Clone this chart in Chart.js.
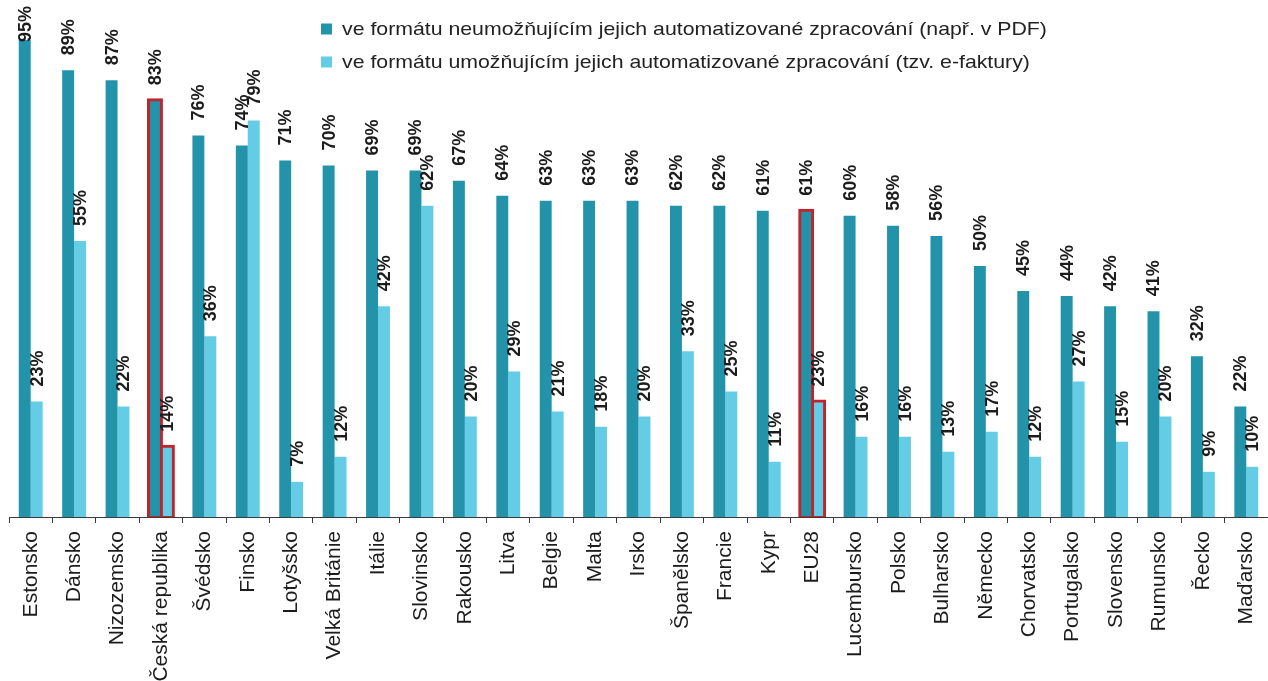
<!DOCTYPE html>
<html>
<head>
<meta charset="utf-8">
<script src="https://cdn.jsdelivr.net/npm/chart.js@4/dist/chart.umd.min.js"></script>
<style>
  html, body { margin: 0; padding: 0; background: #ffffff; }
  #wrap { position: relative; width: 1268px; height: 681px; }
</style>
</head>
<body>
<div id="wrap"><canvas id="c"></canvas></div>
<script>
const categories = ["Estonsko","Dánsko","Nizozemsko","Česká republika","Švédsko","Finsko","Lotyšsko","Velká Británie","Itálie","Slovinsko","Rakousko","Litva","Belgie","Malta","Irsko","Španělsko","Francie","Kypr","EU28","Lucembursko","Polsko","Bulharsko","Německo","Chorvatsko","Portugalsko","Slovensko","Rumunsko","Řecko","Maďarsko"];
const pdfValues   = [95,89,87,83,76,74,71,70,69,69,67,64,63,63,63,62,62,61,61,60,58,56,50,45,44,42,41,32,22];
const eInvValues  = [23,55,22,14,36,79,7,12,42,62,20,29,21,18,20,33,25,11,23,16,16,13,17,12,27,15,20,9,10];
const seriesNames = ["ve formátu neumožňujícím jejich automatizované zpracování (např. v PDF)",
                     "ve formátu umožňujícím jejich automatizované zpracování (tzv. e-faktury)"];
const highlighted = ["Česká republika","EU28"];

const DARK = "#2393AA", LIGHT = "#65CCE5", RED = "#C0242C", TEXT = "#1c1c1c";
const FONT = "'Liberation Sans', Arial, sans-serif";

function isHi(ctx){ return highlighted.includes(categories[ctx.dataIndex]); }

const valueLabels = {
  id: "valueLabels",
  afterDatasetsDraw(chart) {
    const ctx = chart.ctx;
    ctx.save();
    ctx.font = "bold 18px " + FONT;
    ctx.fillStyle = TEXT;
    ctx.textAlign = "left";
    ctx.textBaseline = "middle";
    chart.data.datasets.forEach((ds, di) => {
      const meta = chart.getDatasetMeta(di);
      meta.data.forEach((bar, i) => {
        const txt = ds.data[i] + "%";
        const w = ctx.measureText(txt).width;
        const bottom = Math.max(bar.y - 15, 6 + w);
        ctx.save();
        ctx.translate(bar.x + 1, bottom);
        ctx.rotate(-Math.PI / 2);
        ctx.fillText(txt, 0, 0);
        ctx.restore();
      });
    });
    ctx.restore();
  }
};

const customLegend = {
  id: "customLegend",
  afterDraw(chart) {
    const ctx = chart.ctx;
    ctx.save();
    const rows = [29, 62];
    chart.data.datasets.forEach((ds, di) => {
      const cy = rows[di];
      ctx.fillStyle = ds.backgroundColor;
      ctx.fillRect(321, cy - 5.5, 11, 11);
      ctx.fillStyle = "#222222";
      ctx.font = "19px " + FONT;
      ctx.textAlign = "left";
      ctx.textBaseline = "middle";
      ctx.save();
      ctx.translate(342, cy + 1);
      ctx.scale(1.12, 1);
      ctx.fillText(ds.label, 0, 0);
      ctx.restore();
    });
    ctx.restore();
  }
};

new Chart(document.getElementById("c"), {
  type: "bar",
  data: {
    labels: categories,
    datasets: [
      { label: seriesNames[0], data: pdfValues, backgroundColor: DARK,
        borderColor: c => isHi(c) ? RED : DARK,
        borderWidth: c => isHi(c) ? 3 : 0,
        inflateAmount: c => isHi(c) ? 2 : 0,
        borderSkipped: false },
      { label: seriesNames[1], data: eInvValues, backgroundColor: LIGHT,
        borderColor: c => isHi(c) ? RED : LIGHT,
        borderWidth: c => isHi(c) ? 3 : 0,
        inflateAmount: c => isHi(c) ? 2 : 0,
        borderSkipped: false }
    ]
  },
  options: {
    responsive: true,
    maintainAspectRatio: false,
    animation: false,
    categoryPercentage: 0.55,
    barPercentage: 1.0,
    layout: { padding: { top: 15, left: 9, right: -4, bottom: 0 } },
    plugins: { legend: { display: false }, tooltip: { enabled: false } },
    scales: {
      x: {
        afterFit(s) { s.height = 164; s.paddingLeft = 0; s.paddingRight = 0; },
        border: { display: true, color: "#3a3a3a", width: 1 },
        grid: { display: true, offset: true, drawOnChartArea: false, drawTicks: true, tickLength: 6, color: "#3a3a3a" },
        ticks: { autoSkip: false, minRotation: 90, maxRotation: 90, padding: 8, color: TEXT,
                 font: { family: FONT, size: 21 } }
      },
      y: { display: false, min: 0, max: 100 }
    }
  },
  plugins: [valueLabels, customLegend]
});
</script>
</body>
</html>
